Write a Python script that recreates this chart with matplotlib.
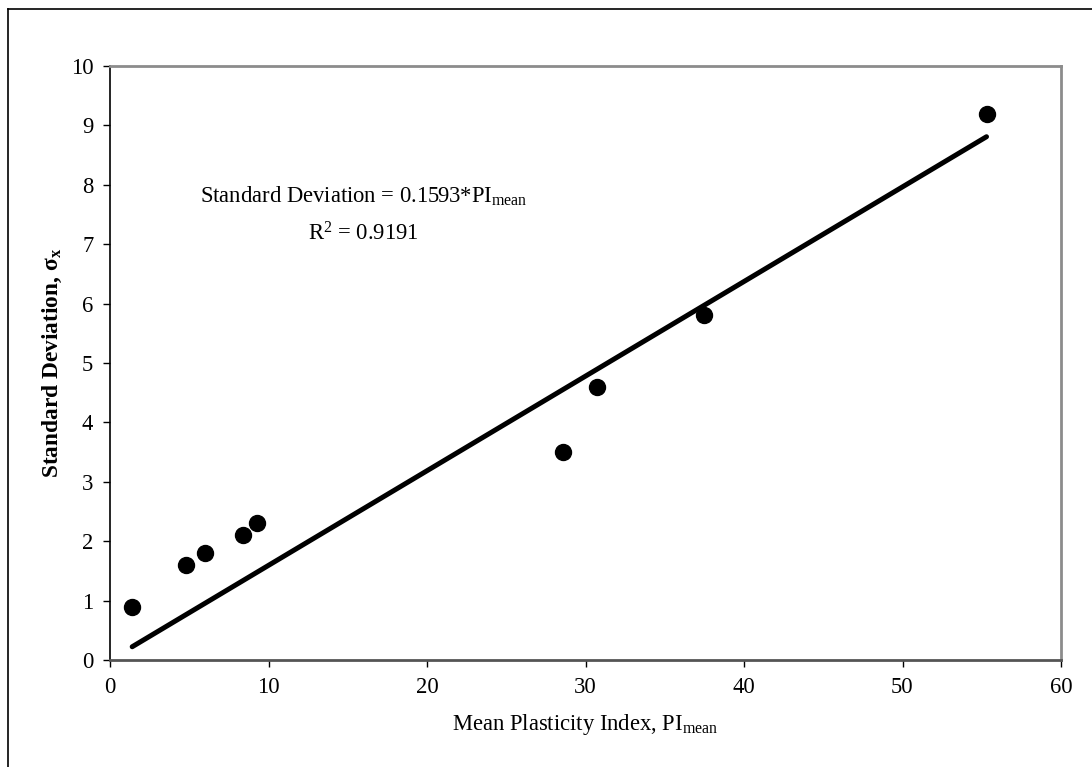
import matplotlib.pyplot as plt
from matplotlib.lines import Line2D
import numpy as np

# mean plasticity index and standard deviation
pi_mean = [1.4, 4.8, 6.0, 8.4, 9.3, 28.6, 30.7, 37.5, 55.3]
std_dev = [0.9, 1.6, 1.8, 2.1, 2.3, 3.5, 4.6, 5.8, 9.2]
slope = 0.1593
r2 = 0.9191

x_ticks = [0, 10, 20, 30, 40, 50, 60]
y_ticks = [0, 1, 2, 3, 4, 5, 6, 7, 8, 9, 10]

plt.rcParams['font.family'] = ['Liberation Serif', 'DejaVu Serif']
plt.rcParams['mathtext.fontset'] = 'custom'
plt.rcParams['mathtext.rm'] = 'Liberation Serif'
plt.rcParams['mathtext.it'] = 'Liberation Serif:italic'
plt.rcParams['mathtext.bf'] = 'Liberation Serif:bold'

fs = 16.3

fig = plt.figure(figsize=(10.92, 7.67), dpi=100)
ax = fig.add_axes([110 / 1092, 1 - 660 / 767, (1061 - 110) / 1092, (660 - 66) / 767])

# outer chart border (left and top visible)
fig.add_artist(Line2D([8 / 1092, 8 / 1092], [0, 1 - 9 / 767], transform=fig.transFigure, color="black", lw=1.2))
fig.add_artist(Line2D([8 / 1092, 1], [1 - 9 / 767, 1 - 9 / 767], transform=fig.transFigure, color="black", lw=1.2))

ax.scatter(pi_mean, std_dev, s=11.5 ** 2, color="black", zorder=3)

# trend line through origin over the data range
xs = np.array([min(pi_mean), max(pi_mean)])
ax.plot(xs, slope * xs, color="black", lw=3.6, solid_capstyle="round", zorder=2)

ax.text(16.0, 7.8, r"Standard Deviation = %.4f*PI$_{\mathrm{mean}}$" % slope,
        ha="center", va="center", fontsize=fs)
ax.text(16.0, 7.17, r"R$^{2}$ = %.4f" % r2, ha="center", va="center", fontsize=fs)

ax.set_xlim(0, 60)
ax.set_ylim(0, 10)
ax.set_xticks(x_ticks)
ax.set_yticks(y_ticks)
ax.tick_params(axis="both", direction="out", length=5, width=1, labelsize=fs, pad=7, color="black")

ax.spines["left"].set_color("black")
ax.spines["left"].set_linewidth(1.2)
ax.spines["bottom"].set_color("#555555")
ax.spines["bottom"].set_linewidth(2)
ax.spines["top"].set_color("#8c8c8c")
ax.spines["top"].set_linewidth(2)
ax.spines["right"].set_color("#8c8c8c")
ax.spines["right"].set_linewidth(2)

ax.set_xlabel(r"Mean Plasticity Index, PI$_{\mathrm{mean}}$", fontsize=fs, labelpad=10)
ax.set_ylabel(r"Standard Deviation, $\mathbf{\sigma}_{\mathbf{x}}$", fontsize=fs + 0.5, fontweight="bold", labelpad=5)

fig.savefig("out.png", dpi=100)
